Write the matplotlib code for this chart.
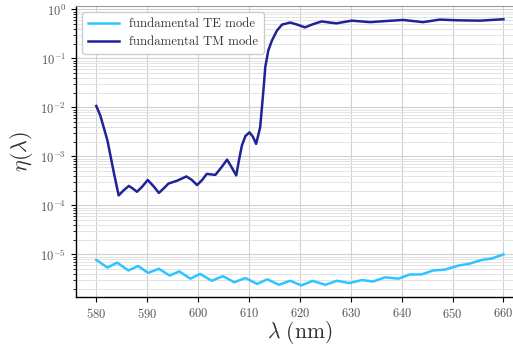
import matplotlib
matplotlib.use("Agg")
import matplotlib.pyplot as plt
from matplotlib.ticker import LogLocator, NullFormatter

# wavelength (nm) and efficiency
wl_tm = [580, 580.8, 582.2, 583.5, 584.4, 585.3, 586.4, 587.2, 588.0, 589.0,
         590.1, 591.2, 592.3, 593.2, 594.2, 595.9, 597.7, 598.8, 599.8, 600.8,
         601.7, 603.4, 604.6, 605.7, 606.6, 607.5, 608.0, 608.6, 609.3, 610.1,
         610.8, 611.4, 612.2, 612.9, 613.2, 613.8, 614.5, 615.5, 616.5, 618.1,
         619.5, 621.0, 622.6, 624.3, 625.8, 627.2, 630.2, 633.8, 637.0, 640.3,
         644.2, 647.5, 651.0, 655.4, 660]
eta_tm = [0.0107, 0.0068, 0.0021, 0.00044, 0.00016, 0.0002, 0.00025, 0.00022, 0.00019, 0.00024,
          0.00033, 0.00025, 0.00018, 0.00022, 0.00028, 0.00032, 0.00039, 0.00033, 0.00026, 0.00033,
          0.00044, 0.00042, 0.0006, 0.00086, 0.0006, 0.00041, 0.0008, 0.00165, 0.0026, 0.0031,
          0.0025, 0.0018, 0.0039, 0.026, 0.066, 0.145, 0.23, 0.37, 0.49, 0.54,
          0.49, 0.43, 0.5, 0.57, 0.54, 0.52, 0.59, 0.55, 0.58, 0.61,
          0.55, 0.62, 0.6, 0.59, 0.63]

wl_te = [580, 582.2, 584.1, 586.3, 588.2, 590.2, 592.3, 594.4, 596.3, 598.5,
         600.4, 602.7, 604.9, 607.1, 609.3, 611.6, 613.6, 615.9, 618.1, 620.3,
         622.5, 625.0, 627.3, 629.7, 632.2, 634.4, 636.7, 639.4, 641.6, 643.9,
         646.2, 648.5, 651.1, 653.4, 655.7, 657.6, 660]
eta_te = [7.7e-6, 5.4e-6, 6.8e-6, 4.7e-6, 5.8e-6, 4.2e-6, 5.1e-6, 3.7e-6, 4.5e-6, 3.2e-6,
          4.0e-6, 2.9e-6, 3.6e-6, 2.7e-6, 3.3e-6, 2.5e-6, 3.1e-6, 2.4e-6, 2.9e-6, 2.33e-6,
          2.88e-6, 2.4e-6, 2.9e-6, 2.6e-6, 3.0e-6, 2.8e-6, 3.4e-6, 3.2e-6, 3.9e-6, 3.9e-6,
          4.7e-6, 4.9e-6, 5.9e-6, 6.5e-6, 7.7e-6, 8.2e-6, 1.0e-5]

plt.rcParams['font.family'] = 'serif'
plt.rcParams['font.serif'] = ['cmr10']
plt.rcParams['mathtext.fontset'] = 'cm'
plt.rcParams['axes.formatter.use_mathtext'] = True

fig = plt.figure(figsize=(5.13, 3.47), dpi=100)
ax = fig.add_axes([0.148, 0.144, 0.873, 0.839])

ax.plot(wl_te, eta_te, color='#2ec4ff', lw=1.8, label='fundamental TE mode')
ax.plot(wl_tm, eta_tm, color='#1f2396', lw=1.8, label='fundamental TM mode')

ax.set_yscale('log')
ax.set_xlim(576, 664)
ax.set_ylim(1.35e-6, 1.18)
ax.set_xticks(range(580, 661, 10))
ax.yaxis.set_major_locator(LogLocator(base=10, numticks=10))
ax.yaxis.set_minor_locator(LogLocator(base=10, subs=range(2, 10), numticks=20))
ax.yaxis.set_minor_formatter(NullFormatter())

ax.grid(which='major', color='#d0d0d0', lw=0.8)
ax.grid(which='minor', axis='y', color='#e3e3e3', lw=0.7)
ax.set_axisbelow(True)

for s in ['left', 'bottom']:
    ax.spines[s].set_color('black')
    ax.spines[s].set_linewidth(1.0)
ax.spines['top'].set_color('#9a9a9a')
ax.spines['right'].set_visible(False)

ax.tick_params(axis='both', which='major', direction='out', length=3.5, width=0.8,
               labelsize=9, labelcolor='#555555', color='black')
ax.tick_params(axis='y', which='minor', direction='out', length=2, width=0.6, color='black')

ax.set_xlabel(r'$\lambda\ (\mathrm{nm})$', fontsize=15.5, color='#333333', labelpad=-1)
ax.set_ylabel(r'$\eta(\lambda)$', fontsize=16, color='#333333', labelpad=4)

leg = ax.legend(loc='upper left', fontsize=9.2, framealpha=1, edgecolor='#cccccc',
                handlelength=2.4, borderpad=0.45, labelspacing=0.45)
for t in leg.get_texts():
    t.set_color('#333333')

fig.savefig('out.png', dpi=100)
